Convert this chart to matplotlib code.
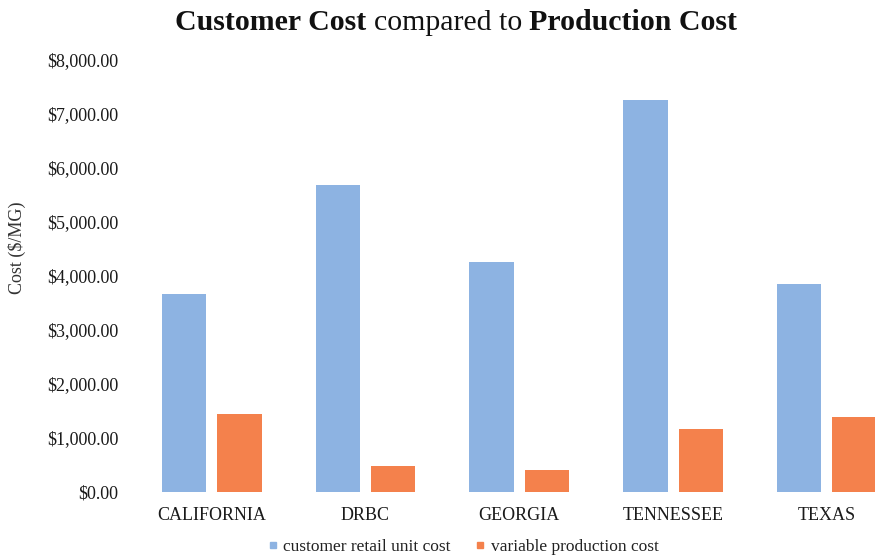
import matplotlib
matplotlib.use("Agg")
import matplotlib.pyplot as plt
import numpy as np
from matplotlib.lines import Line2D
from matplotlib.offsetbox import TextArea, HPacker, AnnotationBbox
from matplotlib.ticker import FuncFormatter

categories = ["CALIFORNIA", "DRBC", "GEORGIA", "TENNESSEE", "TEXAS"]
retail_cost = [3660, 5680, 4260, 7260, 3850]
production_cost = [1430, 480, 400, 1160, 1390]
series_names = ["customer retail unit cost", "variable production cost"]
yticks = [0, 1000, 2000, 3000, 4000, 5000, 6000, 7000, 8000]

blue = "#8DB3E2"
orange = "#F4814C"
font = "Liberation Serif"
plt.rcParams["font.family"] = [font, "DejaVu Serif"]

W, H = 875, 558
fig = plt.figure(figsize=(W / 100, H / 100), dpi=100)
ax = fig.add_axes([134.8 / W, (H - 491.5) / H, 769 / W, 431.5 / H])

x = np.arange(len(categories))
bw = 0.289
off = 0.18
ax.bar(x - off, retail_cost, width=bw, color=blue, label=series_names[0])
ax.bar(x + off, production_cost, width=bw, color=orange, label=series_names[1])

ax.set_xlim(-0.5, len(categories) - 0.5)
ax.set_ylim(0, 8000)
ax.set_yticks(yticks)
ax.yaxis.set_major_formatter(FuncFormatter(lambda v, p: "${:,.2f}".format(v)))
ax.set_xticks(x)
ax.set_xticklabels(categories)
for s in ax.spines.values():
    s.set_visible(False)
ax.tick_params(axis="both", length=0, labelsize=13, colors="#1a1a1a")
ax.tick_params(axis="y", pad=12)
ax.tick_params(axis="x", pad=11)
ax.set_ylabel("Cost ($/MG)", fontsize=13, color="#333333")
ax.yaxis.set_label_coords(-(134.8 - 26) / 769, 0.565)

# Title with mixed weights
parts = [("Customer Cost ", "bold"), ("compared to ", "normal"), ("Production Cost", "bold")]
areas = [TextArea(t, textprops=dict(fontsize=21.5, fontweight=w, family=font, color="#111111"))
         for t, w in parts]
box = HPacker(children=areas, align="baseline", pad=0, sep=0)
ab = AnnotationBbox(box, (456 / W, 1 - 23 / H), xycoords="figure fraction",
                    frameon=False, box_alignment=(0.5, 0.5))
fig.add_artist(ab)

handles = [Line2D([], [], marker="s", linestyle="none", markersize=5, color=blue),
           Line2D([], [], marker="s", linestyle="none", markersize=5, color=orange)]
fig.legend(handles, series_names, loc="center", ncol=2, frameon=False,
           bbox_to_anchor=(463 / W, 1 - 547 / H), fontsize=12.5,
           handlelength=0.6, handletextpad=0.3, columnspacing=1.4,
           labelcolor="#222222")

fig.savefig("out.png", dpi=100)
